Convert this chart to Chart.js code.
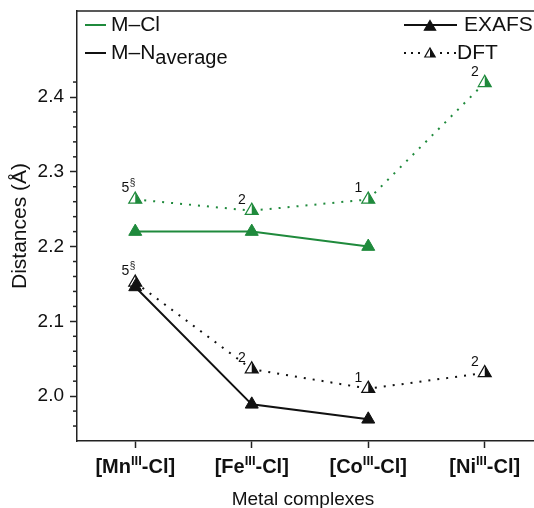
<!DOCTYPE html>
<html>
<head>
<meta charset="utf-8">
<script src="https://cdn.jsdelivr.net/npm/chart.js@4.4.1/dist/chart.umd.min.js"></script>
<style>
    html, body { margin: 0; padding: 0; overflow: hidden; background: #fff; width: 534px; height: 508px; }
    canvas { display: block; }
</style>
</head>
<body>
<canvas id="myChart" width="560" height="508"></canvas>
<script>
// chart data
const categories = ['Mn', 'Fe', 'Co', 'Ni'];
const clExafs = [2.22, 2.22, 2.20, null];
const clDft = [2.263, 2.248, 2.263, 2.419];
const nExafs = [2.146, 1.989, 1.969, null];
const nDft = [2.152, 2.036, 2.010, 2.031];
const dftNote = ['5', '2', '1', '2'];
const dftNoteSup = ['§', '', '', ''];
const yMajorTicks = [2.0, 2.1, 2.2, 2.3, 2.4];
const yMinorTicks = [1.96, 1.98, 2.02, 2.04, 2.06, 2.08, 2.12, 2.14, 2.16, 2.18,
                     2.22, 2.24, 2.26, 2.28, 2.32, 2.34, 2.36, 2.38, 2.42];

const green = '#1f8a3c';
const black = '#111111';
const axisColor = '#222222';
const FONT = '"Liberation Sans", Arial, sans-serif';

function line(ctx, x1, y1, x2, y2, color, width, dash) {
    ctx.save();
    ctx.strokeStyle = color;
    ctx.lineWidth = width;
    ctx.setLineDash(dash || []);
    ctx.beginPath();
    ctx.moveTo(x1, y1);
    ctx.lineTo(x2, y2);
    ctx.stroke();
    ctx.restore();
}

// right half of a triangle, same geometry as Chart.js 'triangle' point style
function fillRightHalf(ctx, cx, cy, r, color) {
    const hw = r * Math.sqrt(3) / 2;
    ctx.beginPath();
    ctx.moveTo(cx, cy - r);
    ctx.lineTo(cx + hw, cy + r / 2);
    ctx.lineTo(cx, cy + r / 2);
    ctx.closePath();
    ctx.fillStyle = color;
    ctx.fill();
}

function triangleOutline(ctx, cx, cy, r, color, fill) {
    const hw = r * Math.sqrt(3) / 2;
    ctx.beginPath();
    ctx.moveTo(cx, cy - r);
    ctx.lineTo(cx + hw, cy + r / 2);
    ctx.lineTo(cx - hw, cy + r / 2);
    ctx.closePath();
    ctx.fillStyle = fill;
    ctx.fill();
    ctx.lineWidth = 1.2;
    ctx.strokeStyle = color;
    ctx.stroke();
}

const halfMarkers = {
    id: 'halfMarkers',
    afterDatasetDraw(chart, args) {
        const ds = chart.data.datasets[args.index];
        if (!ds.halfFill) return;
        const ctx = chart.ctx;
        ctx.save();
        args.meta.data.forEach(function (pt, i) {
            if (ds.data[i] === null) return;
            fillRightHalf(ctx, pt.x, pt.y, ds.pointRadius, ds.borderColor);
        });
        ctx.restore();
    }
};

const decorations = {
    id: 'decorations',
    afterDraw(chart) {
        const ctx = chart.ctx;
        const area = chart.chartArea;
        const x = chart.scales.x, y = chart.scales.y;
        ctx.save();

        // top frame line
        line(ctx, area.left - 0.75, area.top, area.right, area.top, axisColor, 1.5);

        // minor ticks on the y axis
        yMinorTicks.forEach(function (v) {
            const py = y.getPixelForValue(v);
            line(ctx, area.left - 4, py, area.left, py, axisColor, 1.5);
        });

        // category labels with superscript
        ctx.fillStyle = black;
        ctx.textBaseline = 'alphabetic';
        ctx.textAlign = 'left';
        categories.forEach(function (cat, i) {
            const px = x.getPixelForValue(i);
            const a = '[' + cat, sup = 'III', b = '-Cl]';
            ctx.font = 'bold 20px ' + FONT;
            const wa = ctx.measureText(a).width, wb = ctx.measureText(b).width;
            ctx.font = 'bold 13px ' + FONT;
            const ws = ctx.measureText(sup).width;
            const sx = px - (wa + ws + wb) / 2;
            const base = area.bottom + 32;
            ctx.font = 'bold 20px ' + FONT;
            ctx.fillText(a, sx, base);
            ctx.font = 'bold 13px ' + FONT;
            ctx.fillText(sup, sx + wa, base - 8);
            ctx.font = 'bold 20px ' + FONT;
            ctx.fillText(b, sx + wa + ws, base);
        });

        // x axis title
        ctx.textAlign = 'center';
        ctx.font = '19px ' + FONT;
        ctx.fillText('Metal complexes', 303, 505);

        // DFT notes
        [clDft, nDft].forEach(function (vals) {
            vals.forEach(function (v, i) {
                if (v === null) return;
                const px = x.getPixelForValue(i), py = y.getPixelForValue(v);
                ctx.fillStyle = black;
                ctx.textAlign = 'right';
                ctx.font = '14px ' + FONT;
                ctx.fillText(dftNote[i], px - 6, py - 7);
                if (dftNoteSup[i]) {
                    ctx.textAlign = 'left';
                    ctx.font = '10px ' + FONT;
                    ctx.fillText(dftNoteSup[i], px - 5.5, py - 13);
                }
            });
        });

        // legend
        ctx.textAlign = 'left';
        ctx.textBaseline = 'middle';
        ctx.fillStyle = black;
        ctx.font = '21px ' + FONT;
        line(ctx, 85, 25, 106, 25, green, 2);
        ctx.fillText('M–Cl', 111, 25);
        line(ctx, 85, 53, 106, 53, black, 2);
        ctx.fillText('M–N', 111, 53);
        const wn = ctx.measureText('M–N').width;
        ctx.font = '20px ' + FONT;
        ctx.fillText('average', 111 + wn, 58);

        ctx.font = '21px ' + FONT;
        line(ctx, 404, 25, 457, 25, black, 2);
        triangleOutline(ctx, 430, 27, 6.5, black, black);
        ctx.fillStyle = black;
        ctx.fillText('EXAFS', 464, 25);
        line(ctx, 404, 53, 422, 53, black, 2, [2, 5]);
        line(ctx, 440, 53, 456, 53, black, 2, [2, 5]);
        triangleOutline(ctx, 430, 54, 6, black, '#fff');
        fillRightHalf(ctx, 430, 54, 6, black);
        ctx.fillStyle = black;
        ctx.fillText('DFT', 457, 53);

        ctx.restore();
    }
};

new Chart(document.getElementById('myChart'), {
    type: 'line',
    data: {
        labels: categories,
        datasets: [
            {
                label: 'M–Cl EXAFS',
                data: clExafs,
                borderColor: green,
                borderWidth: 2,
                pointStyle: 'triangle',
                pointRadius: 7.5,
                pointBackgroundColor: green,
                pointBorderColor: green,
                pointBorderWidth: 1
            },
            {
                label: 'M–N EXAFS',
                data: nExafs,
                borderColor: black,
                borderWidth: 2,
                pointStyle: 'triangle',
                pointRadius: 7.5,
                pointBackgroundColor: black,
                pointBorderColor: black,
                pointBorderWidth: 1
            },
            {
                label: 'M–Cl DFT',
                data: clDft,
                borderColor: green,
                borderWidth: 2,
                borderDash: [2, 7],
                pointStyle: 'triangle',
                pointRadius: 7.5,
                pointBackgroundColor: '#fff',
                pointBorderColor: green,
                pointBorderWidth: 1.2,
                halfFill: true
            },
            {
                label: 'M–N DFT',
                data: nDft,
                borderColor: black,
                borderWidth: 2,
                borderDash: [2, 7],
                pointStyle: 'triangle',
                pointRadius: 7.5,
                pointBackgroundColor: '#fff',
                pointBorderColor: black,
                pointBorderWidth: 1.2,
                halfFill: true
            }
        ]
    },
    options: {
        responsive: false,
        devicePixelRatio: 1,
        animation: false,
        layout: { padding: { left: 0, top: 11, right: 17, bottom: 0 } },
        plugins: {
            legend: { display: false },
            tooltip: { enabled: false }
        },
        scales: {
            x: {
                type: 'category',
                offset: true,
                grid: {
                    offset: false,
                    drawOnChartArea: false,
                    tickLength: 7,
                    tickWidth: 1.5,
                    tickColor: axisColor
                },
                border: { display: true, color: axisColor, width: 1.5 },
                ticks: { display: false },
                afterFit: function (scale) {
                    scale.height = 67;
                    scale.paddingLeft = 0;
                    scale.paddingRight = 0;
                }
            },
            y: {
                min: 1.94,
                max: 2.515,
                afterBuildTicks: function (scale) {
                    scale.ticks = yMajorTicks.map(function (v) { return { value: v }; });
                },
                grid: {
                    drawOnChartArea: false,
                    tickLength: 7,
                    tickWidth: 1.5,
                    tickColor: axisColor
                },
                border: { display: true, color: axisColor, width: 1.5 },
                ticks: {
                    padding: 6,
                    color: black,
                    font: { family: FONT, size: 19 },
                    callback: function (value) { return Number(value).toFixed(1); }
                },
                title: {
                    display: true,
                    text: 'Distances (Å)',
                    color: black,
                    font: { family: FONT, size: 21, lineHeight: 1 },
                    padding: { top: 10, bottom: 0 }
                },
                afterFit: function (scale) {
                    scale.width = 77;
                    scale.paddingTop = 0;
                    scale.paddingBottom = 0;
                }
            }
        }
    },
    plugins: [halfMarkers, decorations]
});
</script>
</body>
</html>
